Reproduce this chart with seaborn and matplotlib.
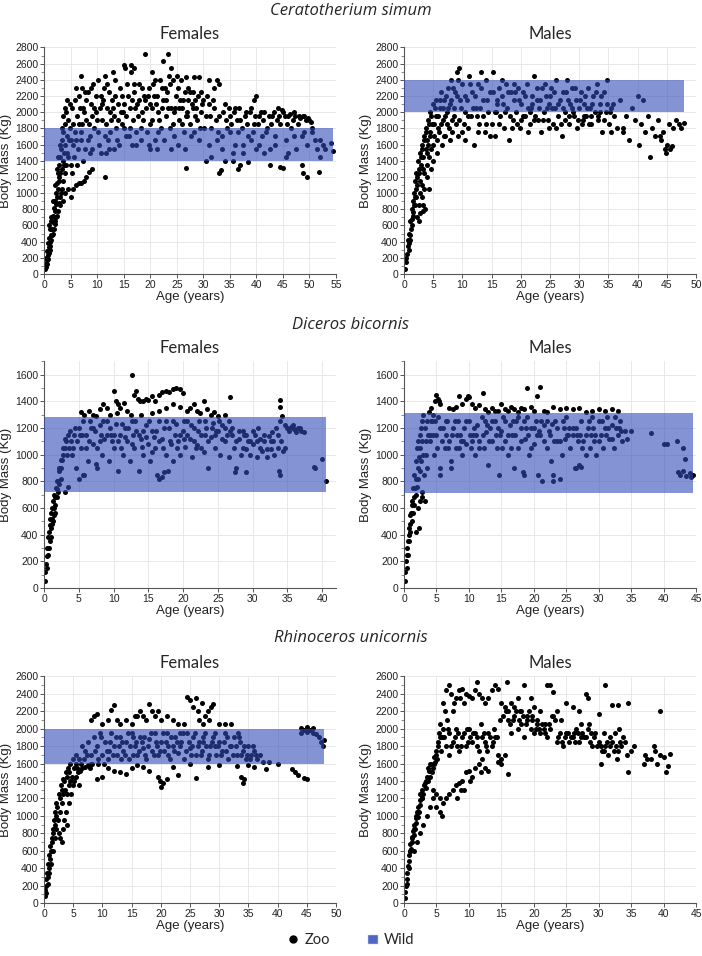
import pandas as pd
import numpy as np
import matplotlib.pyplot as plt
import seaborn as sns
from matplotlib.lines import Line2D
from matplotlib.patches import Patch
from matplotlib.ticker import MultipleLocator

# Ceratotherium simum - females, zoo records (age in years, body mass in kg)
cs_f_zoo = [
    (0.1, 60), (0.2, 120), (0.3, 90), (0.4, 200), (0.5, 170), (0.6, 280), (0.7, 240), (0.8, 380), (0.9, 330),
    (1.0, 450), (1.1, 400), (1.2, 560), (1.3, 480), (1.4, 650), (1.5, 560), (1.6, 720), (1.7, 640), (1.8, 820),
    (1.9, 700), (2.0, 900), (2.1, 780), (2.2, 1000), (2.3, 860), (2.4, 1120), (2.5, 950), (2.6, 1250), (2.7, 1050),
    (2.8, 1350), (2.9, 1150), (3.0, 1450), (3.1, 1250), (3.2, 1550), (3.3, 1300), (3.4, 1650), (3.5, 1400),
    (3.6, 1750), (3.8, 1500), (3.9, 1850), (4.0, 1600), (4.2, 2000), (4.3, 1700), (4.5, 1900), (4.6, 1450),
    (2.5, 720), (3.0, 850), (3.5, 900), (4.0, 1000), (4.5, 1050), (3.2, 1000), (2.0, 650), (1.5, 480), (2.8, 1200),
    (3.7, 1350), (5.0, 950), (5.5, 1050), (6.0, 1100), (6.5, 1120), (7.0, 1130), (7.5, 1150), (8.0, 1200),
    (8.5, 1260), (9.0, 1300), (5.3, 1250), (6.2, 1350), (7.3, 1400),
    (5.2, 2050), (5.5, 1850), (5.8, 2150), (6.0, 1650), (6.3, 1950), (6.6, 2200), (6.9, 1750), (7.1, 2300),
    (7.4, 2050), (7.7, 1550), (8.0, 1900), (8.3, 2250), (8.6, 1700), (8.9, 2100), (9.2, 2350), (9.5, 1800),
    (9.8, 2000), (10.1, 2400), (10.4, 1600), (10.7, 2200), (11.0, 1900), (11.3, 2300), (11.6, 1500), (11.9, 2050),
    (12.2, 2250), (12.5, 1750), (12.8, 2150), (13.1, 1950), (13.4, 2400), (13.7, 1650), (14.0, 2100), (14.3, 2300),
    (14.6, 1850), (14.9, 2000), (15.2, 2550), (15.5, 1700), (15.8, 2200), (16.1, 2050), (16.4, 2500), (16.7, 1900),
    (17.0, 2250), (17.3, 1600), (17.6, 2100), (17.9, 2350), (18.2, 1800), (18.5, 2000), (18.8, 2200), (19.1, 2720),
    (19.4, 1750), (19.7, 2300), (20.0, 2100), (20.3, 1900), (20.6, 2350), (20.9, 1650), (21.2, 2200), (21.5, 2000),
    (21.8, 2400), (22.1, 1800), (22.4, 2150), (22.7, 2300), (23.0, 1950), (23.3, 2720), (23.6, 2450), (23.9, 2050),
    (24.2, 2400), (24.5, 1700), (24.8, 2200), (25.1, 2450), (25.4, 1900), (25.7, 2150), (26.0, 2050), (26.3, 1750),
    (26.6, 2250), (26.9, 2000), (27.2, 2150), (27.5, 1850), (27.8, 2100), (28.1, 2250), (28.4, 1950), (28.7, 2050),
    (29.0, 2200), (29.3, 1800), (29.6, 2000), (30.0, 2150),
    (5.6, 1450), (6.4, 1550), (7.2, 1850), (7.9, 2150), (8.7, 1500), (9.4, 2050), (10.2, 1750), (10.9, 2100),
    (11.7, 1850), (12.4, 2000), (13.2, 1550), (13.9, 1900), (14.7, 2200), (15.4, 1950), (16.2, 1800), (16.9, 2350),
    (17.7, 1950), (18.4, 2300), (19.2, 2050), (19.9, 1850), (20.7, 2200), (21.4, 1750), (22.2, 2050), (22.9, 2150),
    (23.7, 1800), (24.4, 2000), (25.2, 2300), (25.9, 1850), (26.7, 1950), (27.4, 2250), (28.2, 1750), (28.9, 1900),
    (29.7, 2100), (6.8, 2050), (9.0, 1950), (11.2, 2150), (13.0, 2050), (15.0, 2100), (17.2, 2050), (19.0, 2150),
    (21.0, 2100), (23.2, 2250), (25.5, 2050), (27.0, 1950), (8.2, 1650), (12.0, 1650), (16.0, 1700), (20.0, 1550),
    (24.0, 1550), (7.0, 2450), (11.5, 2450), (13.0, 2500), (15.0, 2580), (16.3, 2580), (17.0, 2550), (20.3, 2500),
    (22.5, 2630), (24.0, 2550), (26.8, 2440), (28.3, 2440), (29.2, 2440), (31.0, 2400), (32.5, 2400), (33.0, 2350),
    (32.0, 2300), (39.9, 2200), (39.5, 2150),
    (30.5, 1950), (31.0, 2100), (31.5, 1800), (32.0, 2050), (32.5, 1650), (33.0, 1950), (33.5, 1550), (34.0, 2100),
    (34.5, 1800), (35.0, 1950), (35.5, 1500), (36.0, 2050), (36.5, 1750), (37.0, 1900), (37.5, 1600), (38.0, 2000),
    (38.5, 1700), (39.0, 2050), (39.5, 1850), (40.0, 1550), (40.5, 1950), (41.0, 1700), (41.5, 2000), (42.0, 1800),
    (42.5, 1550), (43.0, 1950), (43.5, 1700), (44.0, 2050), (44.5, 1850), (45.0, 2000), (45.5, 1650), (46.0, 1950),
    (46.5, 1800), (47.0, 2000), (47.5, 1550), (48.0, 1950), (48.5, 1700), (49.0, 1950), (49.5, 1600), (50.0, 1900),
    (50.5, 1800), (51.0, 1650), (51.5, 1550), (52.0, 1650), (52.5, 1600), (53.0, 1550), (54.0, 1620), (54.5, 1520),
    (11.5, 1200), (26.7, 1310), (30.5, 1400), (33.0, 1250), (33.3, 1280), (36.5, 1300), (37.0, 1350), (42.5, 1350),
    (44.5, 1320), (45.0, 1310), (48.8, 1250), (49.5, 1200), (51.8, 1260), (45.5, 1450), (48.5, 1350), (34.0, 1400),
    (38.5, 1380), (31.5, 1450), (35.5, 1400), (40.5, 1600), (41.5, 1500), (43.5, 1600), (46.0, 1500), (47.0, 1700),
    (49.0, 1750), (50.5, 1750), (52.0, 1450), (36.0, 1600), (37.5, 1500), (39.0, 1650), (31.0, 1600), (33.5, 1700),
    (35.0, 1750),
    (0.5, 120), (0.7, 180), (0.9, 260), (1.1, 300), (1.2, 350), (1.4, 420), (1.6, 500), (1.8, 560), (2.1, 620),
    (2.3, 700), (2.6, 780), (2.9, 880), (3.1, 950), (3.4, 1050), (3.6, 1150), (3.9, 1250), (4.1, 1350), (4.4, 1500),
    (4.7, 1650), (4.9, 1800), (1.0, 600), (1.3, 700), (1.7, 900), (2.1, 1100), (2.4, 1300), (2.7, 1450), (3.0, 1600),
    (3.3, 1800), (3.6, 1950), (4.0, 2050), (4.4, 2150), (4.8, 2100), (5.0, 1650), (5.1, 1350),
    (5.4, 1600), (5.9, 1750), (6.1, 2300), (6.5, 1850), (7.0, 1650), (7.6, 2000), (7.8, 2250), (8.4, 1850),
    (8.8, 2300), (9.1, 1550), (9.7, 2200), (10.0, 1900), (10.5, 2050), (10.8, 1500), (11.4, 1700), (11.8, 2350),
    (12.3, 1550), (12.7, 1900), (13.3, 2200), (13.6, 1800), (14.2, 1600), (14.5, 2000), (15.1, 1800), (15.7, 2350),
    (16.5, 1600), (16.6, 2150), (17.4, 1750), (17.9, 2150), (18.3, 1650), (18.7, 1900), (19.5, 2200), (19.8, 1600),
    (20.4, 2050), (20.9, 2400), (21.3, 1550), (21.7, 1900), (22.3, 2300), (22.6, 1650), (23.4, 2050), (23.8, 2350),
    (24.3, 1850), (24.7, 2050), (25.3, 1600), (25.8, 2400), (26.2, 2150), (26.5, 1550), (27.1, 2300), (27.6, 1700),
    (28.0, 2050), (28.5, 2150), (29.1, 1650), (29.5, 2250), (30.2, 1800), (30.7, 2200), (31.3, 1950), (31.8, 2150),
    (32.3, 1900), (32.8, 1750), (33.7, 2000), (34.3, 1900), (34.8, 2050), (35.3, 1850), (35.8, 2000), (36.3, 1900),
    (36.8, 2050), (37.3, 1800), (37.8, 1950), (38.3, 1850), (38.8, 2000), (39.3, 1750), (39.8, 1950), (40.3, 1850),
    (40.8, 2000), (41.3, 1900), (41.8, 1750), (42.3, 1950), (42.8, 1850), (43.3, 2000), (43.8, 1900), (44.3, 1950),
    (44.8, 2030), (45.3, 1950), (45.8, 1850), (46.3, 1980), (46.8, 1900), (47.3, 1950), (47.8, 1850), (48.3, 1930),
    (48.8, 1950), (49.3, 1900), (49.8, 1930), (50.3, 1880),
]

# Ceratotherium simum - males
cs_m_zoo = [
    (0.1, 60), (0.3, 150), (0.5, 250), (0.6, 350), (0.8, 300), (0.9, 500), (1.0, 420), (1.1, 650), (1.2, 550),
    (1.3, 800), (1.4, 680), (1.5, 900), (1.6, 760), (1.7, 1000), (1.8, 850), (1.9, 1150), (2.0, 950), (2.1, 1250),
    (2.2, 700), (2.3, 1100), (2.4, 1400), (2.5, 850), (2.6, 1250), (2.7, 1500), (2.8, 1000), (2.9, 1350),
    (3.0, 1600), (3.1, 1100), (3.2, 1450), (3.3, 780), (3.4, 1700), (3.5, 1250), (3.6, 800), (3.7, 1550),
    (3.8, 1800), (3.9, 1350), (4.0, 1650), (4.1, 1900), (4.2, 1050), (4.3, 1450), (4.4, 1750), (4.5, 2000),
    (4.6, 1300), (4.7, 1550), (4.8, 1850), (4.9, 2100), (5.0, 1400), (5.2, 1700), (5.4, 1950), (5.5, 2150),
    (5.7, 1500), (5.9, 1800), (6.1, 2050), (6.3, 2250), (6.5, 1600), (6.7, 1900), (6.9, 2150), (7.1, 1700),
    (7.3, 2000), (7.5, 2300), (7.7, 1800), (7.9, 2100), (8.1, 2400), (8.3, 1750), (8.5, 1950), (8.8, 2250),
    (9.0, 2500), (9.2, 1700), (9.5, 2550), (9.7, 2050), (10.0, 2350), (10.2, 1850), (10.5, 1650),
    (10.8, 2150), (11.1, 2450), (11.4, 1950), (11.7, 2250), (12.0, 1600), (12.3, 2050), (12.6, 2350), (12.9, 1850),
    (13.2, 2500), (13.5, 2150), (13.8, 1750), (14.1, 2400), (14.4, 2000), (14.7, 2250), (15.0, 1850), (15.3, 2500),
    (15.6, 1700), (15.9, 2100), (16.2, 2300), (16.5, 1950), (16.8, 2200), (17.1, 1800), (17.4, 2350), (17.7, 2050),
    (18.0, 1650), (18.3, 2250), (18.6, 1900), (18.9, 2150), (19.2, 2000), (19.5, 2300), (19.8, 1800), (20.1, 2100),
    (20.4, 2250), (20.7, 1950), (21.0, 2350), (21.3, 2050), (21.6, 1850), (21.9, 2200), (22.2, 2450), (22.5, 1950),
    (22.8, 2150), (23.1, 2050), (23.4, 1750), (23.7, 2300), (24.0, 2000), (24.3, 2200), (24.6, 1900), (24.9, 2100),
    (25.2, 2300), (25.5, 1850), (25.8, 2050), (26.1, 2400), (26.4, 1950), (26.7, 2150), (27.0, 1700), (27.3, 2250),
    (27.6, 2000), (27.9, 2400), (28.2, 1850), (28.5, 2100), (28.8, 2300), (29.1, 1950), (29.4, 2150), (29.7, 1800),
    (30.0, 2050), (30.3, 2250), (30.6, 1900), (30.9, 2100), (31.2, 1950), (31.5, 2300), (31.8, 2050), (32.1, 1850),
    (32.4, 2200), (32.7, 2000), (33.0, 2350), (33.3, 1900), (33.6, 2100), (33.9, 1750), (34.2, 2250), (34.5, 2000),
    (34.8, 2400), (35.1, 1850), (35.5, 2050), (36.0, 1950),
    (11.0, 1800), (12.5, 1950), (14.0, 1850), (15.5, 2000), (17.0, 2100), (18.5, 1800), (20.0, 1900), (21.5, 2000),
    (23.0, 1900), (24.5, 2050), (26.0, 1800), (27.5, 1900), (29.0, 2000), (30.5, 1850), (32.0, 1950), (33.5, 2000),
    (13.0, 2050), (16.0, 2150), (19.0, 2250), (22.0, 2100), (25.0, 2200), (28.0, 2150), (31.0, 2200), (9.5, 1900),
    (10.5, 2000), (36.5, 1800), (37.0, 2150), (37.5, 1750), (38.0, 1950), (38.5, 1650), (39.0, 2050), (39.5, 1900),
    (40.0, 2200), (40.2, 1600), (40.5, 1850), (41.0, 2150), (41.3, 1750), (41.8, 1950), (42.2, 1450), (42.5, 1800),
    (43.0, 1700), (43.5, 1900), (44.0, 1650), (44.3, 1750), (44.7, 1550), (45.0, 1600), (45.3, 1850), (45.6, 1550),
    (46.0, 1800), (46.5, 1900), (47.0, 1850), (47.5, 1800), (48.0, 1870), (45.8, 1580), (44.9, 1500), (43.8, 1700),
    (37.5, 1800), (35.5, 1750),
    (0.4, 200), (0.7, 420), (0.9, 380), (1.1, 480), (1.3, 600), (1.5, 720), (1.7, 850), (1.9, 950), (2.1, 1050),
    (2.3, 1200), (2.5, 1300), (2.7, 1150), (2.9, 1450), (3.1, 1550), (3.3, 1300), (3.5, 1650), (3.7, 1750),
    (3.9, 1500), (4.1, 1600), (4.3, 1850), (4.5, 1700), (4.7, 1950), (4.9, 1600), (5.1, 1850), (5.3, 2050),
    (5.6, 1650), (5.8, 1950), (6.0, 1750), (6.2, 2150), (6.4, 1850), (6.6, 2050), (6.8, 1700), (7.0, 1950),
    (7.2, 2200), (7.4, 1850), (7.6, 2050), (7.8, 1650), (8.0, 2150), (8.2, 1900), (8.4, 2300), (8.6, 2050),
    (8.9, 1850), (9.1, 2200), (9.3, 2400), (9.6, 2150), (9.9, 1750), (3.0, 950), (3.5, 1050), (4.0, 1200),
    (2.5, 650), (2.8, 750), (3.2, 850),
    (10.4, 2200), (10.9, 1950), (11.3, 2350), (11.8, 2050), (12.2, 2200), (12.7, 1750), (13.1, 2300), (13.6, 1950),
    (14.2, 2150), (14.8, 1700), (15.2, 2250), (15.8, 2000), (16.3, 1850), (16.7, 2400), (17.3, 2000), (17.8, 2250),
    (18.2, 1950), (18.8, 2350), (19.3, 1850), (19.7, 2150), (20.3, 1950), (20.8, 2200), (21.2, 1750), (21.8, 2050),
    (22.3, 1900), (22.7, 2300), (23.3, 2150), (23.8, 1900), (24.2, 2350), (24.8, 1800), (25.3, 2050), (25.7, 2250),
    (26.3, 2100), (26.8, 1850), (27.2, 2050), (27.7, 2250), (28.3, 1950), (28.7, 2050), (29.3, 2300), (29.8, 1900),
    (30.2, 2150), (30.8, 1950), (31.3, 2050), (31.7, 1850), (32.2, 2100), (32.8, 2250), (33.2, 1950), (33.8, 2200),
    (34.3, 1900), (34.7, 2100), (35.3, 2000), (35.8, 2100),
]

# Diceros bicornis - females
db_f_zoo = [
    (0.1, 50), (0.2, 120), (0.3, 180), (0.4, 240), (0.5, 300), (0.6, 380), (0.7, 420), (0.8, 470), (0.9, 520),
    (1.0, 560), (1.1, 520), (1.2, 600), (1.3, 650), (1.4, 550), (1.5, 700), (1.6, 620), (1.7, 750), (1.8, 680),
    (1.9, 800), (2.0, 720), (2.1, 880), (2.2, 780), (2.4, 900), (2.6, 960), (2.8, 1000), (3.0, 1050), (3.2, 1100),
    (3.5, 1150), (3.8, 1180), (2.5, 820), (3.0, 720), (3.4, 760), (0.7, 300), (1.0, 450), (1.3, 500), (1.6, 560),
    (5.3, 1320), (5.8, 1300), (6.5, 1330), (7.0, 1300), (7.5, 1290), (8.0, 1340), (8.5, 1380), (9.0, 1350),
    (9.5, 1300), (10.0, 1480), (10.3, 1400), (10.7, 1380), (11.0, 1350), (11.5, 1390), (12.0, 1330), (12.7, 1600),
    (12.9, 1450), (13.2, 1480), (13.5, 1420), (13.8, 1400), (14.2, 1400), (14.6, 1420), (15.0, 1410), (15.5, 1440),
    (16.0, 1400), (16.5, 1450), (17.0, 1470), (17.5, 1480), (18.0, 1470), (18.5, 1490), (19.0, 1500), (19.5, 1490),
    (20.0, 1460), (14.0, 1300), (15.5, 1310), (16.5, 1330), (17.5, 1350), (18.5, 1380), (19.5, 1360), (20.5, 1330),
    (21.0, 1350), (21.5, 1380), (22.0, 1330), (22.5, 1310), (23.0, 1400), (23.5, 1340), (24.0, 1300), (24.5, 1320),
    (25.0, 1290), (26.0, 1300), (26.8, 1430), (33.9, 1410), (34.0, 1360), (34.2, 1290), (10.5, 1310), (12.5, 1300),
    (4.0, 1000), (4.3, 1150), (4.6, 900), (5.0, 1200), (5.3, 1050), (5.6, 850), (6.0, 1150), (6.3, 950), (6.6, 1250),
    (7.0, 1080), (7.3, 1180), (7.6, 900), (8.0, 1220), (8.3, 1000), (8.6, 1120), (9.0, 1250), (9.3, 950), (9.6, 1150),
    (10.0, 1050), (10.3, 1230), (10.6, 880), (11.0, 1150), (11.3, 1000), (11.6, 1200), (12.0, 1100), (12.3, 950),
    (12.6, 1250), (13.0, 1050), (13.3, 1180), (13.6, 880), (14.0, 1120), (14.3, 1000), (14.6, 1220), (15.0, 1080),
    (15.3, 950), (15.6, 1180), (16.0, 1050), (16.3, 850), (16.6, 1250), (17.0, 1120), (17.3, 870), (17.6, 1000),
    (18.0, 1200), (18.3, 1080), (18.6, 950), (19.0, 1230), (19.3, 1100), (19.6, 1000), (20.0, 1180), (20.3, 1060),
    (20.6, 1250), (21.0, 1120), (21.3, 980), (21.6, 1200), (22.0, 1070), (22.3, 1250), (22.6, 1150), (23.0, 1020),
    (23.3, 1200), (23.6, 900), (24.0, 1130), (24.3, 1240), (24.6, 1050), (25.0, 1180), (25.3, 1000), (25.6, 1220),
    (26.0, 1100), (26.3, 1150), (26.6, 980), (27.0, 1200), (27.3, 1050), (27.6, 900), (28.0, 1120), (28.3, 1000),
    (28.6, 1180), (29.0, 1040), (29.3, 1100), (29.6, 1000), (30.0, 1080), (30.3, 1150), (30.6, 980), (31.0, 1120),
    (31.3, 1030), (31.6, 1100), (32.0, 980), (32.3, 1140), (32.6, 1040), (33.0, 1100), (33.3, 1200), (33.6, 1050),
    (34.0, 1250), (34.3, 1030), (34.6, 1220), (35.0, 1200), (35.5, 1210), (36.0, 1190), (36.5, 1200), (37.0, 1180),
    (37.4, 1170), (34.0, 850), (33.8, 880), (38.8, 910), (39.0, 900), (40.0, 970), (40.6, 800), (29.0, 870),
    (27.4, 870), (17.0, 830), (16.6, 820), (17.8, 880), (5.0, 820), (5.8, 850), (7.5, 930), (5.5, 1150), (6.8, 1200),
    (8.2, 1150), (9.8, 1100), (11.2, 1230), (12.8, 1150), (14.2, 1180), (15.8, 1130), (17.2, 1200), (18.8, 1150),
    (20.2, 1120), (21.8, 1050), (23.2, 1150), (24.8, 1180), (26.8, 1180), (28.8, 1150), (30.8, 1200), (32.8, 1170),
    (0.4, 150), (0.6, 250), (0.8, 350), (1.0, 380), (1.2, 480), (1.4, 600), (1.6, 680), (1.8, 740), (2.0, 800),
    (2.2, 900), (2.4, 960), (2.7, 1050), (3.0, 1120), (3.3, 1000), (3.6, 1050), (3.9, 1100), (4.2, 1050),
    (4.5, 1200), (4.8, 1100), (5.2, 1150), (5.6, 1250), (6.1, 1050), (6.5, 1100), (7.1, 1200), (7.6, 1050),
    (8.1, 1100), (8.5, 1250), (9.1, 1150), (9.5, 1200), (10.1, 1150), (10.6, 1100), (11.1, 1050), (11.6, 1130),
    (12.1, 1200), (12.6, 1080), (13.1, 1250), (13.6, 1150), (14.1, 1060), (14.6, 1130), (15.1, 1250), (15.6, 1020),
    (16.1, 1180), (16.6, 1100), (17.1, 1050), (17.6, 1250), (18.1, 1100), (18.6, 1250), (19.1, 1050), (19.6, 1150),
    (20.1, 1250), (20.6, 1150), (21.1, 1220), (21.6, 1100), (22.1, 1180), (22.6, 1050), (23.1, 1250), (23.6, 1100),
    (24.1, 1200), (24.6, 1150), (25.1, 1250), (25.6, 1120), (26.1, 1200), (26.6, 1250), (27.1, 1150), (27.6, 1100),
    (28.1, 1180), (28.6, 1050), (29.1, 1150), (29.6, 1100), (30.1, 1180), (30.6, 1100), (31.1, 1050), (31.6, 1150),
    (32.1, 1040), (32.6, 1100), (33.1, 1000), (33.6, 1150), (34.1, 1100), (34.6, 1050), (35.2, 1180), (35.8, 1220),
    (36.3, 1170), (36.8, 1200),
]

# Diceros bicornis - males
db_m_zoo = [
    (0.1, 50), (0.2, 120), (0.3, 200), (0.4, 150), (0.5, 300), (0.6, 250), (0.7, 400), (0.8, 350), (0.9, 480),
    (1.0, 420), (1.1, 560), (1.2, 500), (1.3, 620), (1.4, 560), (1.5, 680), (1.6, 620), (1.7, 750), (1.8, 700),
    (1.9, 820), (2.0, 760), (2.1, 900), (2.2, 820), (2.3, 980), (2.4, 880), (2.5, 1050), (2.6, 950), (2.7, 720),
    (2.8, 1100), (3.0, 1000), (3.2, 1200), (3.4, 1100), (3.6, 1250), (3.8, 1320), (4.0, 1150), (4.2, 1350),
    (4.5, 1300), (4.8, 1400), (5.0, 1450), (5.2, 1420), (5.4, 1400), (5.6, 1380), (1.8, 420), (2.3, 450), (3.3, 650),
    (7.0, 1350), (7.5, 1340), (8.0, 1360), (8.4, 1440), (9.0, 1380), (9.5, 1420), (9.8, 1440), (10.0, 1430),
    (10.5, 1380), (11.0, 1350), (11.5, 1370), (12.2, 1460), (12.5, 1340), (13.0, 1320), (13.5, 1350), (14.0, 1330),
    (14.5, 1330), (15.0, 1380), (15.5, 1340), (16.0, 1330), (16.5, 1360), (17.0, 1340), (17.5, 1320), (18.0, 1350),
    (18.5, 1340), (19.0, 1500), (19.5, 1360), (20.0, 1330), (20.5, 1440), (21.0, 1510), (21.5, 1330), (22.0, 1320),
    (23.0, 1360), (24.0, 1340), (25.0, 1350), (26.0, 1340), (27.0, 1350), (28.0, 1320), (29.0, 1330), (30.0, 1340),
    (31.0, 1330), (32.0, 1340), (33.0, 1330),
    (3.5, 900), (4.0, 1100), (4.3, 1250), (4.6, 1000), (5.0, 1150), (5.3, 1280), (5.6, 900), (6.0, 1200),
    (6.3, 1050), (6.6, 1250), (7.0, 1100), (7.3, 950), (7.6, 1200), (8.0, 1050), (8.3, 1250), (8.6, 1150),
    (9.0, 1000), (9.3, 1200), (9.6, 1080), (10.0, 1250), (10.3, 1050), (10.6, 1150), (11.0, 1000), (11.3, 1220),
    (11.6, 1100), (12.0, 1280), (12.3, 1050), (12.6, 1170), (13.0, 920), (13.3, 1200), (13.6, 1100), (14.0, 1250),
    (14.3, 1050), (14.6, 850), (15.0, 1180), (15.3, 1280), (15.6, 1100), (16.0, 1000), (16.3, 1220), (16.6, 1150),
    (17.0, 900), (17.3, 1250), (17.6, 1050), (18.0, 1200), (18.3, 870), (18.6, 1120), (19.0, 1280), (19.3, 1000),
    (19.6, 1200), (20.0, 1080), (20.3, 1250), (20.6, 850), (21.0, 1150), (21.3, 800), (21.6, 1220), (22.0, 1050),
    (22.3, 1180), (22.6, 950), (23.0, 800), (23.3, 1250), (23.6, 1100), (24.0, 820), (24.3, 1000), (24.6, 1200),
    (25.0, 1280), (25.3, 1150), (25.6, 1050), (26.0, 1200), (26.3, 900), (26.6, 1150), (27.0, 920), (27.3, 1250),
    (27.6, 1100), (28.0, 1000), (28.3, 1200), (28.6, 1050), (29.0, 1280), (29.3, 1100), (29.6, 1000), (30.0, 1250),
    (30.3, 1150), (30.6, 1050), (31.0, 1200), (31.3, 1280), (31.6, 1120), (32.0, 1220), (32.3, 1050), (32.6, 1200),
    (33.0, 1150), (33.3, 1250), (33.6, 1100), (34.0, 1180), (34.3, 1120), (35.0, 1180), (38.0, 1160), (40.0, 1080),
    (40.5, 1080), (42.0, 1100), (43.0, 1050), (43.3, 970), (42.2, 870), (42.5, 850), (43.0, 880), (43.5, 840),
    (44.0, 860), (44.3, 830), (44.5, 850), (26.5, 900), (27.2, 910), (23.0, 850), (18.5, 850), (5.5, 850), (7.2, 900),
    (6.5, 1150), (8.8, 1100), (10.8, 1200), (12.8, 1220), (14.8, 1150), (16.8, 1250), (18.8, 1200), (20.8, 1180),
    (22.8, 1230), (24.8, 1120), (26.8, 1100), (28.8, 1150),
    (0.4, 250), (0.6, 350), (0.8, 450), (1.0, 550), (1.2, 650), (1.4, 750), (1.6, 850), (1.8, 950), (2.0, 1050),
    (2.2, 1100), (2.4, 1150), (2.6, 1200), (2.8, 1250), (3.0, 1300), (2.1, 600), (2.4, 650), (2.7, 680), (3.1, 850),
    (3.4, 1000), (3.7, 1150), (4.1, 1250), (4.4, 1150), (4.7, 1250), (5.1, 1050), (5.5, 1200), (5.9, 1100),
    (6.4, 1250), (6.8, 1050), (7.4, 1150), (7.8, 1250), (8.1, 1150), (8.5, 1050), (9.1, 1100), (9.5, 1250),
    (10.1, 1150), (10.5, 1100), (11.1, 1150), (11.5, 1050), (12.1, 1150), (12.5, 1250), (13.1, 1100), (13.5, 1250),
    (14.1, 1150), (14.5, 1200), (15.1, 1050), (15.5, 1250), (16.1, 1150), (16.5, 1050), (17.1, 1150), (17.5, 1280),
    (18.1, 1100), (18.5, 1250), (19.1, 1150), (19.5, 1050), (20.1, 1200), (20.5, 1150), (21.1, 1250), (21.5, 1100),
    (22.1, 1250), (22.5, 1150), (23.1, 1100), (23.5, 1200), (24.1, 1100), (24.5, 1250), (25.1, 1150), (25.5, 1200),
    (26.1, 1150), (26.5, 1200), (27.1, 1150), (27.5, 1050), (28.1, 1150), (28.5, 1250), (29.1, 1200), (29.5, 1150),
    (30.1, 1100), (30.5, 1250), (31.1, 1150), (31.5, 1200), (32.1, 1120), (32.5, 1280), (33.1, 1200), (33.5, 1180),
]

# Rhinoceros unicornis - females
ru_f_zoo = [
    (0.1, 80), (0.2, 150), (0.3, 200), (0.4, 280), (0.5, 350), (0.6, 300), (0.7, 450), (0.8, 400), (0.9, 550),
    (1.0, 500), (1.1, 650), (1.2, 600), (1.3, 750), (1.4, 700), (1.5, 850), (1.6, 800), (1.7, 950), (1.8, 900),
    (1.9, 1050), (2.0, 1000), (2.1, 1150), (2.3, 1100), (2.5, 1250), (2.7, 1200), (2.9, 1350), (3.1, 1300),
    (3.3, 1420), (3.5, 1400), (3.7, 1500), (3.9, 1450), (4.1, 1550), (4.3, 1500), (2.6, 800), (2.8, 750), (3.0, 700),
    (3.2, 850), (3.5, 950), (3.8, 1050), (4.0, 900), (4.3, 1150), (4.6, 1250), (4.9, 1350), (5.2, 1400), (5.5, 1450),
    (5.8, 1500), (6.1, 1520), (6.5, 1550), (7.0, 1560), (7.5, 1580), (8.0, 1600), (6.0, 1350), (4.5, 1600),
    (5.0, 1650), (8.0, 2100), (8.5, 2150), (9.0, 2170), (10.0, 2050), (11.0, 2100), (11.5, 2220), (12.0, 2270),
    (12.5, 2100), (13.0, 2050), (14.0, 2100), (15.0, 2050), (15.5, 2150), (16.0, 2150), (16.5, 2200), (17.0, 2150),
    (17.5, 2100), (18.0, 2280), (18.5, 2200), (19.0, 2150), (19.5, 2200), (20.0, 2100), (21.0, 2150), (22.0, 2100),
    (23.0, 2050), (24.0, 2050), (24.5, 2370), (25.0, 2330), (25.5, 2250), (26.0, 2350), (26.3, 2200), (26.6, 2100),
    (27.0, 2300), (27.3, 2050), (27.6, 2150), (28.0, 2200), (28.3, 2100), (28.6, 2250), (29.0, 2280), (30.0, 2050),
    (31.0, 2050), (32.0, 2050), (44.0, 2010), (45.0, 2020), (46.0, 2010),
    (9.0, 1420), (10.0, 1450), (11.0, 1550), (12.0, 1520), (13.0, 1500), (14.0, 1480), (15.0, 1550), (16.0, 1580),
    (17.0, 1560), (18.0, 1520), (19.5, 1450), (19.8, 1400), (20.0, 1330), (20.3, 1380), (21.0, 1420), (22.0, 1560),
    (23.0, 1470), (25.0, 1600), (26.0, 1430), (28.0, 1560), (30.0, 1580), (33.0, 1570), (33.8, 1450), (34.0, 1380),
    (34.3, 1420), (35.0, 1580), (36.0, 1560), (38.0, 1540), (40.0, 1590), (42.5, 1540), (43.0, 1500), (43.5, 1470),
    (44.5, 1440), (45.0, 1420),
    (5.5, 1700), (6.0, 1650), (6.5, 1800), (7.0, 1750), (7.5, 1850), (8.0, 1700), (8.5, 1900), (9.0, 1800),
    (9.5, 1950), (10.0, 1700), (10.5, 1850), (11.0, 1650), (11.5, 1950), (12.0, 1800), (12.5, 1700), (13.0, 1900),
    (13.5, 1750), (14.0, 1850), (14.5, 1650), (15.0, 1950), (15.5, 1800), (16.0, 1700), (16.5, 1900), (17.0, 1780),
    (17.5, 1650), (18.0, 1880), (18.5, 1750), (19.0, 1950), (19.5, 1700), (20.0, 1850), (20.5, 1750), (21.0, 1950),
    (21.5, 1650), (22.0, 1800), (22.5, 1900), (23.0, 1720), (23.5, 1850), (24.0, 1650), (24.5, 1950), (25.0, 1780),
    (25.5, 1900), (26.0, 1700), (26.5, 1850), (27.0, 1750), (27.5, 1950), (28.0, 1650), (28.5, 1800), (29.0, 1900),
    (29.5, 1700), (30.0, 1850), (30.5, 1750), (31.0, 1950), (31.5, 1650), (32.0, 1800), (32.5, 1900), (33.0, 1700),
    (33.5, 1850), (34.0, 1750), (34.5, 1650), (35.0, 1800), (35.5, 1700), (36.0, 1750), (36.5, 1650), (37.0, 1700),
    (37.5, 1620), (38.5, 1620), (44.0, 1950), (44.5, 1980), (45.0, 1960), (45.5, 1990), (46.0, 1950), (46.5, 1940),
    (47.0, 1900), (47.5, 1850), (47.8, 1800), (47.9, 1870), (9.2, 1650), (11.2, 1750), (13.2, 1650), (15.2, 1700),
    (17.2, 1900), (19.2, 1850), (21.2, 1800), (23.2, 1950), (25.2, 1700), (27.2, 1850), (29.2, 1800), (31.2, 1750),
    (33.2, 1950),
    (0.3, 120), (0.6, 220), (0.9, 350), (1.2, 450), (1.5, 600), (1.8, 750), (2.1, 850), (2.4, 950), (2.7, 1050),
    (3.0, 1150), (3.3, 1250), (3.6, 1300), (3.9, 1250), (4.2, 1350), (4.5, 1400), (4.8, 1450), (5.1, 1550),
    (5.4, 1600), (5.7, 1550), (6.3, 1600), (6.8, 1650), (7.3, 1700), (7.8, 1550), (8.3, 1600), (8.8, 1750),
    (9.3, 1600), (9.8, 1900), (10.3, 1600), (10.8, 1750), (11.3, 1850), (11.8, 1700), (12.3, 1900), (12.8, 1800),
    (13.3, 1850), (13.8, 1700), (14.3, 1950), (14.8, 1800), (15.3, 1900), (15.8, 1850), (16.3, 1750), (16.8, 1850),
    (17.3, 1700), (17.8, 1800), (18.3, 1950), (18.8, 1700), (19.3, 1800), (19.8, 1750), (20.3, 1950), (20.8, 1850),
    (21.3, 1700), (21.8, 1900), (22.3, 1750), (22.8, 1850), (23.3, 1800), (23.8, 1950), (24.3, 1750), (24.8, 1850),
    (25.3, 1800), (25.8, 1950), (26.3, 1800), (26.8, 1700), (27.3, 1900), (27.8, 1800), (28.3, 1700), (28.8, 1850),
    (29.3, 1950), (29.8, 1800), (30.3, 1700), (30.8, 1850), (31.3, 1900), (31.8, 1800), (32.3, 1700), (32.8, 1800),
    (33.3, 1900), (33.8, 1700), (34.3, 1800), (34.8, 1700), (35.3, 1650), (35.8, 1800), (36.3, 1700),
]

# Rhinoceros unicornis - males (no wild reference)
ru_m_zoo = [
    (0.1, 60), (0.2, 130), (0.3, 200), (0.4, 280), (0.5, 350), (0.6, 420), (0.7, 480), (0.8, 550), (0.9, 600),
    (1.0, 680), (1.1, 620), (1.2, 760), (1.3, 700), (1.4, 830), (1.5, 780), (1.6, 900), (1.7, 850), (1.8, 980),
    (1.9, 920), (2.0, 1050), (2.1, 990), (2.2, 1100), (2.3, 1050), (2.4, 1180), (2.5, 1120), (2.6, 1250),
    (2.7, 1200), (2.8, 1300), (3.0, 1250), (3.2, 1380), (3.4, 1320), (3.5, 1450), (3.7, 1400), (3.9, 1520),
    (4.0, 1450), (4.2, 1600), (4.4, 1550), (4.6, 1680), (4.8, 1620), (5.0, 1750), (5.2, 1850), (5.4, 1950),
    (5.6, 2050), (5.8, 1900), (6.0, 2000), (1.5, 600), (2.0, 700), (2.5, 800), (3.0, 900), (3.5, 1000), (4.0, 1100),
    (4.5, 1200), (5.0, 1100), (5.5, 1050), (5.8, 1000), (6.0, 1150), (6.5, 1200), (7.0, 1250), (7.5, 1300),
    (8.0, 1350), (8.5, 1380), (9.0, 1400), (9.3, 1300), (9.5, 1500), (10.0, 1520), (10.5, 1450), (11.0, 1550),
    (11.5, 1600), (12.0, 1650), (4.5, 1300), (5.0, 1250), (5.5, 1200),
    (6.0, 2300), (6.5, 2440), (7.0, 2500), (7.5, 2200), (8.0, 2350), (8.5, 2450), (9.0, 2460), (9.5, 2400),
    (10.0, 2380), (10.5, 2350), (11.0, 2450), (11.3, 2540), (11.5, 2400), (12.0, 2350), (12.5, 2300), (13.0, 2350),
    (13.5, 2450), (14.0, 2500), (14.5, 2460), (15.0, 2300), (15.5, 2250), (15.8, 2540), (16.0, 2200), (16.5, 2300),
    (17.0, 2250), (17.5, 2350), (18.0, 2200), (18.5, 2500), (19.0, 2150), (19.5, 2350), (20.0, 2250), (20.5, 2100),
    (21.0, 2200), (22.0, 2500), (22.5, 2500), (23.0, 2420), (23.5, 2200), (25.0, 2300), (26.0, 2250), (27.0, 2200),
    (28.0, 2400), (28.3, 2350), (30.0, 2170), (31.0, 2500), (32.0, 2270), (33.0, 2270), (34.5, 2300), (39.5, 2200),
    (6.5, 1800), (7.0, 1950), (7.5, 1850), (8.0, 2000), (8.5, 1750), (9.0, 1900), (9.5, 1800), (10.0, 2000),
    (10.5, 1850), (11.0, 1950), (11.5, 1750), (12.0, 1900), (12.5, 1850), (13.0, 1950), (13.5, 1800), (14.0, 1900),
    (14.5, 1700), (15.0, 1650), (15.5, 1700), (16.0, 1480), (16.0, 2100), (16.5, 1950), (17.0, 2150), (17.5, 2000),
    (18.0, 2050), (18.5, 1900), (19.0, 2100), (19.5, 2000), (20.0, 1950), (20.5, 2050), (21.0, 1950), (21.5, 2000),
    (22.0, 1900), (22.5, 2000), (23.0, 2150), (23.5, 1850), (24.0, 1950), (24.5, 1800), (25.0, 1950), (25.5, 1850),
    (26.0, 1900), (26.5, 2000), (27.0, 1850), (27.5, 1950), (28.0, 1900), (28.5, 2050), (29.0, 1800), (29.5, 1950),
    (30.0, 1850), (30.3, 1600), (30.5, 1750), (31.0, 1800), (31.5, 1700), (32.0, 1850), (32.5, 1950), (33.0, 1750),
    (33.5, 1800), (34.0, 1850), (34.5, 1500), (35.0, 1750), (35.5, 1800), (37.0, 1600), (37.2, 1700), (37.5, 1650),
    (38.0, 1650), (38.5, 1800), (38.7, 1750), (39.0, 1600), (39.5, 1700), (40.0, 1680), (40.3, 1500), (40.7, 1570),
    (41.0, 1710), (14.5, 1620), (15.0, 1600), (13.0, 1520), (7.0, 1700), (8.2, 1800), (9.8, 1850), (11.2, 1800),
    (12.8, 1750), (13.8, 2000), (17.8, 2200), (19.8, 2150), (21.8, 2050), (26.2, 1950), (28.8, 1950), (31.8, 1900),
    (33.2, 2000), (30.8, 1950), (32.8, 1650), (24.2, 2100), (27.2, 2050),
    (0.4, 220), (0.7, 400), (1.0, 600), (1.3, 750), (1.6, 850), (1.9, 1000), (2.2, 1050), (2.5, 1250), (2.8, 1200),
    (3.1, 1350), (3.4, 1400), (3.7, 1550), (4.0, 1600), (4.3, 1500), (4.6, 1600), (4.9, 1700), (5.1, 1650),
    (5.3, 1800), (5.5, 1900), (5.7, 1750), (6.2, 1900), (6.8, 2000), (7.3, 1800), (7.8, 1900), (8.3, 1950),
    (8.8, 1800), (9.3, 1950), (9.7, 2000), (10.2, 1900), (10.7, 1950), (11.3, 1900), (11.8, 2050), (12.3, 1950),
    (12.7, 1800), (13.3, 1900), (13.7, 1850), (14.3, 1900), (14.8, 2100), (15.3, 2150), (15.7, 2200), (16.3, 2050),
    (16.8, 2100), (17.3, 2200), (17.7, 2100), (18.3, 2150), (18.8, 2050), (19.3, 2200), (19.7, 2100), (20.3, 2000),
    (20.8, 2000), (21.3, 2050), (21.7, 1950), (22.3, 2050), (22.8, 2150), (23.3, 2100), (23.8, 1900), (24.3, 1850),
    (24.8, 1900), (25.3, 1950), (25.8, 1900), (26.3, 1850), (26.8, 1950), (27.3, 1900), (27.8, 1900), (28.3, 2000),
    (28.7, 1850), (29.3, 1900), (29.8, 1800), (30.3, 1800), (30.8, 1750), (31.3, 1850), (31.7, 1800), (32.3, 1750),
    (32.7, 1800), (33.3, 1850), (33.7, 1900), (34.3, 1700), (7.2, 2400), (7.7, 2300), (8.7, 2350), (9.2, 2300),
    (6.7, 2100), (6.3, 2200), (8.2, 1200), (8.8, 1300), (10.2, 1400), (12.5, 1550), (11.8, 1500),
]

# wild body-mass ranges: (max age shown, lower kg, upper kg); None = no wild data
cs_f_wild = (54.5, 1400, 1800)
cs_m_wild = (48, 2000, 2400)
db_f_wild = (40.6, 720, 1280)
db_m_wild = (44.5, 710, 1310)
ru_f_wild = (48, 1600, 2000)
ru_m_wild = None

species = ['Ceratotherium simum', 'Diceros bicornis', 'Rhinoceros unicornis']
xlims = [(55, 50), (42, 45), (50, 45)]
ylims = [2800, 1700, 2600]

panels = [
    (cs_f_zoo, cs_f_wild, cs_m_zoo, cs_m_wild),
    (db_f_zoo, db_f_wild, db_m_zoo, db_m_wild),
    (ru_f_zoo, ru_f_wild, ru_m_zoo, ru_m_wild),
]

band_color = '#324bb7'
title_font = ['Lato', 'DejaVu Sans']
tick_font = ['Liberation Sans', 'DejaVu Sans']

sns.set_theme(style='whitegrid')
plt.rcParams['font.family'] = tick_font

fig = plt.figure(figsize=(7.02, 9.56), dpi=100)

col_left = [0.0627, 0.5755]
row_bottom = [0.7134, 0.3849, 0.0554]
w, h = 0.416, 0.237

for r in range(3):
    f_zoo, f_wild, m_zoo, m_wild = panels[r]
    for c, (zoo, wild, sex) in enumerate([(f_zoo, f_wild, 'Females'), (m_zoo, m_wild, 'Males')]):
        ax = fig.add_axes([col_left[c], row_bottom[r], w, h])
        df = pd.DataFrame(zoo, columns=['age', 'mass'])
        sns.scatterplot(data=df, x='age', y='mass', ax=ax, color='black', s=13,
                        linewidth=0, zorder=2)
        if wild is not None:
            ax.fill_between([0, wild[0]], wild[1], wild[2], color=band_color,
                            alpha=0.6, linewidth=0, zorder=3)
        ax.set_xlim(0, xlims[r][c])
        ax.set_ylim(0, ylims[r])
        ax.xaxis.set_major_locator(MultipleLocator(5))
        ax.yaxis.set_major_locator(MultipleLocator(200))
        ax.yaxis.set_minor_locator(MultipleLocator(100))
        ax.grid(True, which='major', color='#e8e8e8', linewidth=0.7, zorder=0)
        ax.set_axisbelow(True)
        for s in ['top', 'right']:
            ax.spines[s].set_visible(False)
        for s in ['left', 'bottom']:
            ax.spines[s].set_color('#555555')
            ax.spines[s].set_linewidth(0.8)
        ax.tick_params(axis='both', which='major', labelsize=7.5, length=3, width=0.7,
                       color='#555555', pad=1, left=True, bottom=True, labelcolor='#222222')
        ax.tick_params(axis='y', which='minor', length=2, width=0.6, color='#777777', left=True)
        ax.set_xlabel('Age (years)', fontsize=9.5, labelpad=1, color='#222222')
        ax.set_ylabel('Body Mass (Kg)', fontsize=9.5, labelpad=2, color='#222222')
        ax.set_title(sex, fontsize=12, family=title_font, pad=6)

species_y = [0.989, 0.660, 0.333]
for r in range(3):
    fig.text(0.5, species_y[r], species[r], ha='center', va='center', fontsize=12,
             style='italic', family=['Open Sans', 'DejaVu Sans'])

handles = [Line2D([0], [0], marker='o', color='none', markerfacecolor='black',
                  markeredgecolor='black', markersize=5, label='Zoo'),
           Patch(facecolor=band_color, alpha=0.85, label='Wild')]
fig.legend(handles=handles, loc='center', bbox_to_anchor=(0.5, 0.017), ncol=2,
           frameon=False, handlelength=0.8, handletextpad=0.4,
           columnspacing=2.5, prop={'family': title_font, 'size': 10.5})

fig.savefig('out.png', dpi=100)
